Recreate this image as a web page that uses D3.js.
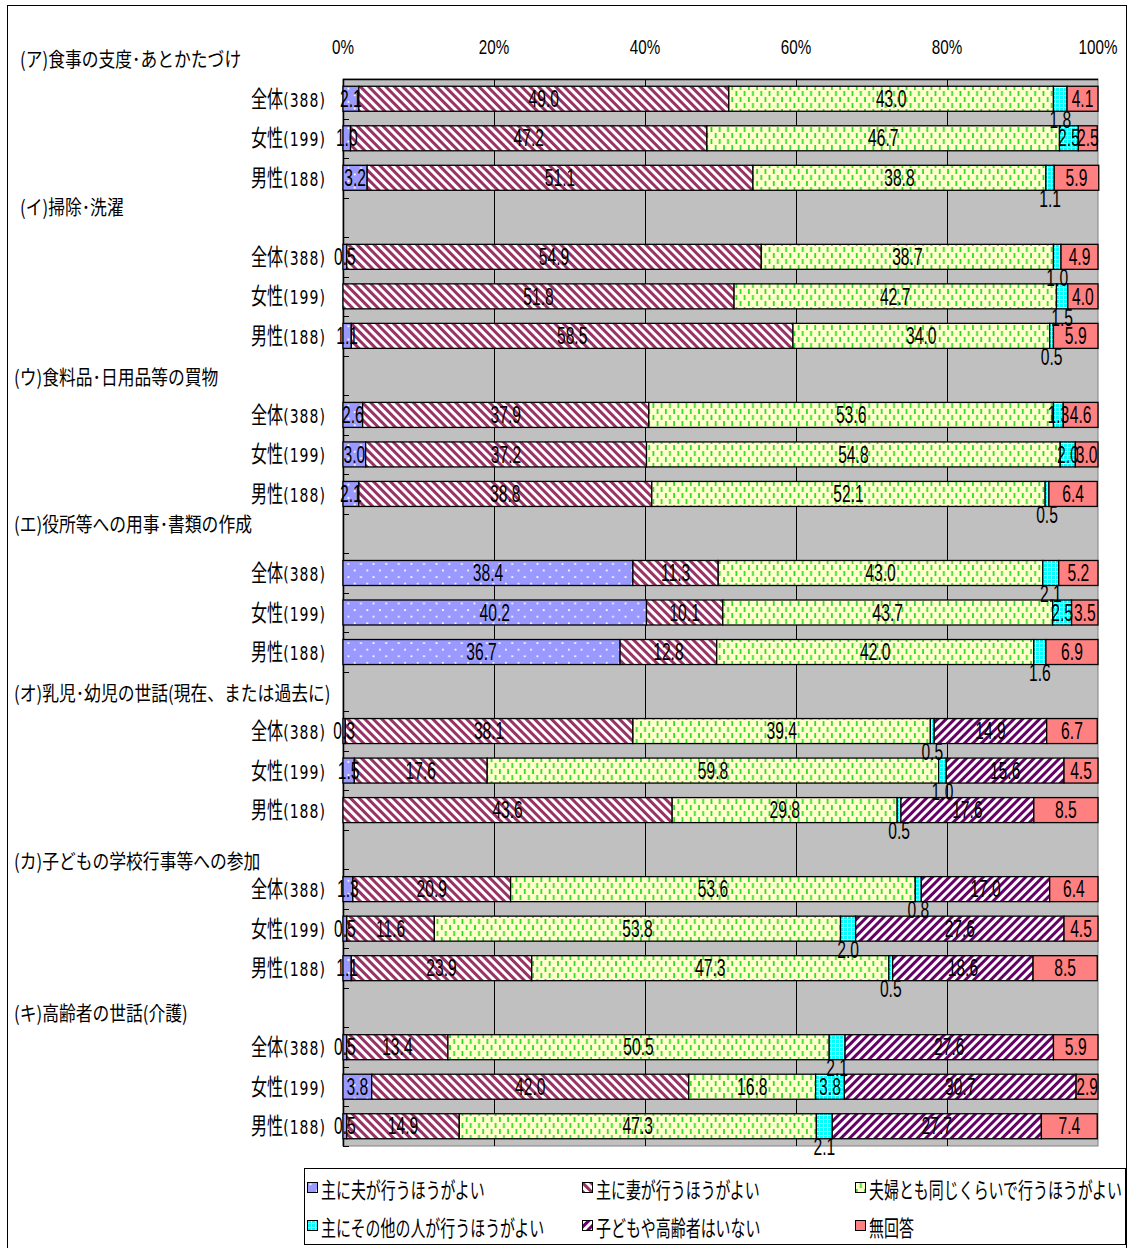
<!DOCTYPE html>
<html>
<head>
<meta charset="utf-8">
<script src="https://cdn.jsdelivr.net/npm/d3@7"></script>
<style>
  body { margin: 0; background: #fff; }
  svg { display: block; }
</style>
</head>
<body>
<svg id="chart" width="1128" height="1248"></svg>
<script>
// ---- data -------------------------------------------------------------
const groups = [
  "(ア)食事の支度･あとかたづけ",
  "(イ)掃除･洗濯",
  "(ウ)食料品･日用品等の買物",
  "(エ)役所等への用事･書類の作成",
  "(オ)乳児･幼児の世話(現在、または過去に)",
  "(カ)子どもの学校行事等への参加",
  "(キ)高齢者の世話(介護)"
];
const respondentNames = ["全体", "女性", "男性"];
const respondentCounts = ["(388)", "(199)", "(188)"];

const seriesLabels = [
  "主に夫が行うほうがよい",
  "主に妻が行うほうがよい",
  "夫婦とも同じくらいで行うほうがよい",
  "主にその他の人が行うほうがよい",
  "子どもや高齢者はいない",
  "無回答"
];

// each inner array: [全体, 女性, 男性]
const husband    = [[2.1, 1.0, 3.2], [0.5, 0, 1.1], [2.6, 3.0, 2.1], [38.4, 40.2, 36.7], [0.3, 1.5, 0], [1.3, 0.5, 1.1], [0.5, 3.8, 0.5]];
const wife       = [[49.0, 47.2, 51.1], [54.9, 51.8, 58.5], [37.9, 37.2, 38.8], [11.3, 10.1, 12.8], [38.1, 17.6, 43.6], [20.9, 11.6, 23.9], [13.4, 42.0, 14.9]];
const both       = [[43.0, 46.7, 38.8], [38.7, 42.7, 34.0], [53.6, 54.8, 52.1], [43.0, 43.7, 42.0], [39.4, 59.8, 29.8], [53.6, 53.8, 47.3], [50.5, 16.8, 47.3]];
const others     = [[1.8, 2.5, 1.1], [1.0, 1.5, 0.5], [1.3, 2.0, 0.5], [2.1, 2.5, 1.6], [0.5, 1.0, 0.5], [0.8, 2.0, 0.5], [2.1, 3.8, 2.1]];
const noChildren = [[0, 0, 0], [0, 0, 0], [0, 0, 0], [0, 0, 0], [14.9, 15.6, 17.6], [17.0, 27.6, 18.6], [27.6, 30.7, 27.7]];
const noAnswer   = [[4.1, 2.5, 5.9], [4.9, 4.0, 5.9], [4.6, 3.0, 6.4], [5.2, 3.5, 6.9], [6.7, 4.5, 8.5], [6.4, 4.5, 8.5], [5.9, 2.9, 7.4]];

const xTicks = [0, 20, 40, 60, 80, 100];
const xTickLabels = ["0%", "20%", "40%", "60%", "80%", "100%"];

// ---- layout -----------------------------------------------------------
const W = 1128, H = 1248;
const plot = { left: 343, right: 1098, top: 79, bottom: 1146 };
const barHeight = 25;
const seriesKeys = ["husband", "wife", "both", "others", "noChildren", "noAnswer"];
const seriesData = [husband, wife, both, others, noChildren, noAnswer];
// the "その他" label sits inside the bar only where there is room for it
const othersLabelInside = [[false, true, false], [false, false, false], [true, true, false],
                           [false, true, false], [false, false, false], [false, false, false], [false, true, false]];
const headingNudge = [-1, -11, 1, -10, 1, 11, 5];
const headingX = [20, 20, 14, 14, 14, 14, 14];

const CJK = "'Noto Sans CJK JP', 'Noto Sans', sans-serif";
const NUM = "'Liberation Sans', Arial, sans-serif";

// rows: a blank spacer row before every group except the first
const rows = [];
groups.forEach((g, gi) => {
  if (gi > 0) rows.push({ key: "gap" + gi, blank: true, group: gi });
  respondentNames.forEach((r, ri) => {
    const row = { key: gi + "-" + ri, blank: false, group: gi, resp: ri };
    seriesKeys.forEach((k, si) => { row[k] = seriesData[si][gi][ri]; });
    rows.push(row);
  });
});
const barRows = rows.filter(r => !r.blank);

const svg = d3.select("#chart");
const x = d3.scaleLinear().domain([0, 100]).range([plot.left, plot.right]);
const y = d3.scaleBand().domain(rows.map(r => r.key)).range([plot.top, plot.bottom]).padding(0);
const yc = key => y(key) + y.bandwidth() / 2;

// ---- fill patterns ----------------------------------------------------
const defs = svg.append("defs");
function pattern(id, w, h, rotate) {
  const p = defs.append("pattern").attr("id", id)
    .attr("patternUnits", "userSpaceOnUse").attr("width", w).attr("height", h);
  if (rotate) p.attr("patternTransform", `rotate(${rotate})`);
  return p;
}
// dotted blue
let p = pattern("pat-husband", 12.6, 13.2);
p.append("rect").attr("width", 12.6).attr("height", 13.2).attr("fill", "#9999FF");
p.append("rect").attr("x", 1).attr("y", 2).attr("width", 1.8).attr("height", 1.8).attr("fill", "#fff");
p.append("rect").attr("x", 7.3).attr("y", 8.6).attr("width", 1.8).attr("height", 1.8).attr("fill", "#fff");
// maroon "\" stripes
p = pattern("pat-wife", 6, 6, -45);
p.append("rect").attr("width", 6).attr("height", 6).attr("fill", "#fff");
p.append("rect").attr("width", 3).attr("height", 6).attr("fill", "#993366");
// yellow with green dashes
p = pattern("pat-both", 8.3, 12);
p.append("rect").attr("width", 8.3).attr("height", 12).attr("fill", "#FFFFCC");
p.append("rect").attr("x", 1).attr("y", 1).attr("width", 1.7).attr("height", 5).attr("fill", "#22DD22");
p.append("rect").attr("x", 5.1).attr("y", 7).attr("width", 1.7).attr("height", 5).attr("fill", "#22DD22");
// cyan grid
p = pattern("pat-others", 4, 4);
p.append("rect").attr("width", 4).attr("height", 4).attr("fill", "#00FFFF");
p.append("rect").attr("x", 3).attr("width", 1).attr("height", 4).attr("fill", "#CCFFFF");
p.append("rect").attr("y", 3).attr("width", 4).attr("height", 1).attr("fill", "#CCFFFF");
// purple "/" stripes
p = pattern("pat-noChildren", 6, 6, 45);
p.append("rect").attr("width", 6).attr("height", 6).attr("fill", "#fff");
p.append("rect").attr("width", 3).attr("height", 6).attr("fill", "#660066");

const fills = {
  husband: "url(#pat-husband)", wife: "url(#pat-wife)", both: "url(#pat-both)",
  others: "url(#pat-others)", noChildren: "url(#pat-noChildren)", noAnswer: "#FF8080"
};

// ---- text helper (narrow lettering) -----------------------------------
function txt(parent, tx, ty, str, o) {
  const t = parent.append("text")
    .attr("transform", `translate(${tx},${ty}) scale(${o.sx},1)`)
    .attr("text-anchor", o.anchor || "middle")
    .attr("dominant-baseline", "central")
    .style("font-family", o.family || NUM)
    .style("font-size", o.size + "px")
    .attr("fill", "#000");
  if (str !== null) t.text(str);
  return t;
}

// ---- frame ------------------------------------------------------------
svg.append("rect").attr("x", 0).attr("y", 0).attr("width", W).attr("height", H).attr("fill", "#fff");
svg.append("rect").attr("x", 7.5).attr("y", 5.5).attr("width", 1119).attr("height", 1270)
  .attr("fill", "none").attr("stroke", "#000").attr("stroke-width", 1);

// ---- plot area --------------------------------------------------------
svg.append("rect").attr("x", plot.left).attr("y", plot.top)
  .attr("width", plot.right - plot.left).attr("height", plot.bottom - plot.top)
  .attr("fill", "#C0C0C0").attr("stroke", "#808080").attr("stroke-width", 1);

const grid = svg.append("g");
grid.selectAll("line").data(xTicks.filter(v => v > 0 && v < 100)).join("line")
  .attr("x1", d => Math.round(x(d)) + 0.5).attr("x2", d => Math.round(x(d)) + 0.5)
  .attr("y1", plot.top).attr("y2", plot.bottom)
  .attr("stroke", "#000").attr("stroke-width", 1);

// top axis line and labels
svg.append("line").attr("x1", plot.left).attr("x2", plot.right)
  .attr("y1", plot.top + 0.5).attr("y2", plot.top + 0.5).attr("stroke", "#000").attr("stroke-width", 1.5);
const xAxisG = svg.append("g");
xTicks.forEach((v, i) => {
  txt(xAxisG, x(v), 47, xTickLabels[i], { size: 20, sx: 0.76 });
});

// left axis with inward ticks at every band boundary
svg.append("line").attr("x1", plot.left + 0.5).attr("x2", plot.left + 0.5)
  .attr("y1", plot.top).attr("y2", plot.bottom).attr("stroke", "#000").attr("stroke-width", 1.5);
const boundaries = rows.map(r => y(r.key)).concat([plot.bottom]);
svg.append("g").selectAll("line").data(boundaries).join("line")
  .attr("x1", plot.left).attr("x2", plot.left + 6)
  .attr("y1", d => Math.round(d) + 0.5).attr("y2", d => Math.round(d) + 0.5)
  .attr("stroke", "#000").attr("stroke-width", 1);

// ---- stacked bars -----------------------------------------------------
const stacked = d3.stack().keys(seriesKeys)(barRows);
const barsG = svg.append("g");
stacked.forEach(layer => {
  barsG.append("g").selectAll("rect")
    .data(layer.filter(d => d[1] - d[0] > 0))
    .join("rect")
    .attr("x", d => x(d[0]))
    .attr("width", d => x(d[1]) - x(d[0]))
    .attr("y", d => yc(d.data.key) - barHeight / 2)
    .attr("height", barHeight)
    .attr("fill", fills[layer.key])
    .attr("stroke", "#000")
    .attr("stroke-width", 1.3);
});

// ---- value labels -----------------------------------------------------
const labelsG = svg.append("g");
stacked.forEach(layer => {
  layer.forEach(d => {
    const v = d.data[layer.key];
    if (!(v > 0)) return;
    const cx = (x(d[0]) + x(d[1])) / 2;
    let cy = yc(d.data.key);
    if (layer.key === "others" && !othersLabelInside[d.data.group][d.data.resp]) cy += 21;
    txt(labelsG, cx, cy, v.toFixed(1), { size: 23, sx: 0.68 });
  });
});

// ---- category labels --------------------------------------------------
const catG = svg.append("g");
barRows.forEach(r => {
  const t = catG.append("text")
    .attr("transform", `translate(326,${yc(r.key) + 8}) scale(0.7,1)`)
    .attr("text-anchor", "end").attr("fill", "#000");
  t.append("tspan").style("font-family", CJK).style("font-size", "23px").text(respondentNames[r.resp]);
  t.append("tspan").style("font-family", "'DejaVu Sans', sans-serif").style("font-size", "20px")
    .attr("letter-spacing", "1.5").text(respondentCounts[r.resp]);
});

// ---- group headings ---------------------------------------------------
const headG = svg.append("g");
groups.forEach((g, gi) => {
  const cy = gi === 0 ? plot.top - y.bandwidth() / 2 : yc("gap" + gi);
  txt(headG, headingX[gi], cy + headingNudge[gi], g, { size: 20, sx: 0.84, anchor: "start", family: CJK });
});

// ---- legend -----------------------------------------------------------
const legendG = svg.append("g");
legendG.append("rect").attr("x", 304.5).attr("y", 1168.5).attr("width", 821).attr("height", 76)
  .attr("fill", "#fff").attr("stroke", "#000").attr("stroke-width", 1);
const legendCols = [307, 582, 855];
const legendRows = [1188, 1226];
seriesKeys.forEach((k, i) => {
  const lx = legendCols[i % 3], ly = legendRows[Math.floor(i / 3)];
  legendG.append("rect").attr("x", lx + 0.5).attr("y", ly - 5.5).attr("width", 10).attr("height", 10)
    .attr("fill", fills[k]).attr("stroke", "#000").attr("stroke-width", 1);
  txt(legendG, lx + 14, ly, seriesLabels[i], { size: 22, sx: 0.68, anchor: "start", family: CJK });
});
</script>
</body>
</html>
